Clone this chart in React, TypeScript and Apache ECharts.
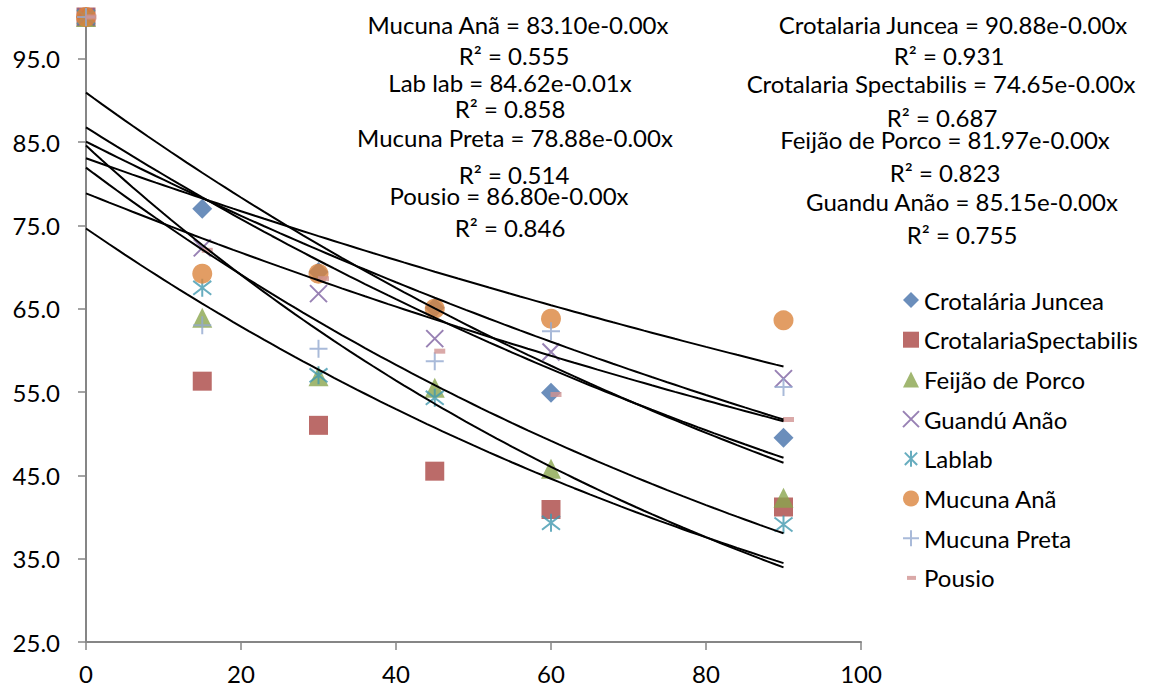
import React, { useEffect, useRef } from 'react';
import * as echarts from 'echarts';

const xValues = [0, 15, 30, 45, 60, 90];
const seriesNames = [
  'Crotalária Juncea',
  'CrotalariaSpectabilis',
  'Feijão de Porco',
  'Guandú Anão',
  'Lablab',
  'Mucuna Anã',
  'Mucuna Preta',
  'Pousio',
];
const crotalariaJuncea = [100, 77.0, 69.4, 65.1, 54.9, 49.5];
const crotalariaSpectabilis = [100, 56.3, 51.0, 45.5, 40.9, 41.2];
const feijaoDePorco = [100, 63.9, 56.9, 55.5, 45.8, 42.3];
const guanduAnao = [100, 72.3, 66.8, 61.4, 59.8, 56.6];
const lablab = [100, 67.5, 57.0, 54.3, 39.3, 39.1];
const mucunaAna = [100, 69.2, 69.2, 65.0, 63.8, 63.6];
const mucunaPreta = [100, 63.0, 60.2, 58.7, 62.3, 55.6];
const pousio = [100, 72.0, 68.6, 59.9, 54.7, 51.7];
const seriesValues = [
  crotalariaJuncea,
  crotalariaSpectabilis,
  feijaoDePorco,
  guanduAnao,
  lablab,
  mucunaAna,
  mucunaPreta,
  pousio,
];
const yTicks = [25, 35, 45, 55, 65, 75, 85, 95];
const xTicks = [0, 20, 40, 60, 80, 100];

const equationLabels = [
  'Mucuna Anã = 83.10e-0.00x',
  'R² = 0.555',
  'Lab lab = 84.62e-0.01x',
  'R² = 0.858',
  'Mucuna Preta = 78.88e-0.00x',
  'R² = 0.514',
  'Pousio = 86.80e-0.00x',
  'R² = 0.846',
  'Crotalaria Juncea = 90.88e-0.00x',
  'R² = 0.931',
  'Crotalaria Spectabilis = 74.65e-0.00x',
  'R² = 0.687',
  'Feijão de Porco = 81.97e-0.00x',
  'R² = 0.823',
  'Guandu Anão = 85.15e-0.00x',
  'R² = 0.755',
];

// layout of the equation labels (centre x, centre y)
const equationPos = [
  [518, 24], [514, 55], [510, 82], [510, 108], [515, 137], [514, 174], [509, 195], [510, 227],
  [953, 24], [949, 55], [941, 83], [942, 117], [945, 139], [945, 172], [962, 201], [962, 234],
];

const colors = ['#4672AA', '#AA4643', '#89A54E', '#7E62A1', '#4198AF', '#DB843D', '#93A9CF', '#D19392'];
const symbols = [
  'diamond',
  'rect',
  'triangle',
  'path://M0 0L10 10M10 0L0 10',
  'path://M0 0L10 10M10 0L0 10M5 -1.5L5 11.5',
  'circle',
  'path://M5 0L5 10M0 5L10 5',
  'rect',
];
const symbolSizes: any[] = [20, 19, 20, 17, 18, 20, 18, [11, 5]];
const strokeOnly = [false, false, false, true, true, false, true, false];

// Exponential least-squares fit (as Excel's trendline) of a series
function expFit(xs: number[], ys: number[]) {
  const n = xs.length;
  const ly = ys.map((v) => Math.log(v));
  const mx = xs.reduce((a, b) => a + b, 0) / n;
  const my = ly.reduce((a, b) => a + b, 0) / n;
  let sxy = 0;
  let sxx = 0;
  for (let i = 0; i < n; i++) {
    sxy += (xs[i] - mx) * (ly[i] - my);
    sxx += (xs[i] - mx) * (xs[i] - mx);
  }
  const b = sxy / sxx;
  const a = Math.exp(my - b * mx);
  return { a, b };
}

export default function App() {
  const ref = useRef<HTMLDivElement>(null);
  useEffect(() => {
    if (!ref.current) return;
    const chart = echarts.init(ref.current, null, { renderer: 'svg' });
    const font = 'Lato';
    const fs = 24;
    const scatterSeries = seriesNames.map((name, i) => ({
      name,
      type: 'scatter',
      symbol: symbols[i],
      symbolSize: symbolSizes[i],
      symbolOffset: i === 7 ? [5, 0] : [0, 0],
      data: xValues.map((x, j) => [x, seriesValues[i][j]]),
      itemStyle: strokeOnly[i]
        ? { color: 'transparent', borderColor: colors[i], borderWidth: 2 }
        : { color: colors[i] },
      z: 2,
    }));
    const trendSeries = seriesValues.map((vals, i) => {
      const { a, b } = expFit(xValues, vals);
      const pts: number[][] = [];
      for (let x = 0; x <= xValues[xValues.length - 1]; x += 1) {
        pts.push([x, a * Math.exp(b * x)]);
      }
      return {
        name: 'trend' + i,
        type: 'line',
        data: pts,
        showSymbol: false,
        symbol: 'none',
        silent: true,
        lineStyle: { color: '#000', width: 2 },
        z: 3,
      };
    });
    const legendData = seriesNames.map((name, i) =>
      i === 7
        ? { name, icon: 'path://M0 0M16 16M4 6L13 6L13 10L4 10Z' }
        : { name }
    );
    chart.setOption({
      animation: false,
      textStyle: { fontFamily: font },
      grid: { left: 86, right: 302, top: 17, bottom: 49 },
      xAxis: {
        type: 'value',
        min: 0,
        max: 100,
        interval: 20,
        splitLine: { show: false },
        axisLine: { lineStyle: { color: '#868686', width: 2 } },
        axisTick: { show: true, length: 8, lineStyle: { color: '#868686', width: 1.5 } },
        axisLabel: {
          color: '#000',
          fontFamily: font,
          fontSize: fs,
          margin: 19,
          customValues: xTicks,
        },
      },
      yAxis: {
        type: 'value',
        min: 25,
        max: 100,
        interval: 10,
        splitLine: { show: false },
        axisLine: { show: true, lineStyle: { color: '#868686', width: 2 } },
        axisTick: { show: true, length: 8, lineStyle: { color: '#868686', width: 1.5 }, customValues: yTicks },
        axisLabel: {
          color: '#000',
          fontFamily: font,
          fontSize: fs,
          margin: 26,
          customValues: yTicks,
          formatter: (v: number) => v.toFixed(1),
        },
      },
      legend: {
        orient: 'vertical',
        left: 897,
        top: 283,
        itemWidth: 16,
        itemHeight: 16,
        itemGap: 15.7,
        data: legendData,
        textStyle: { color: '#000', fontFamily: font, fontSize: fs, lineHeight: 24 },
      },
      graphic: equationLabels.map((t, i) => ({
        type: 'text',
        x: equationPos[i][0],
        y: equationPos[i][1],
        silent: true,
        style: {
          text: t,
          fill: '#000',
          font: `${fs}px ${font}`,
          lineHeight: 20,
          textAlign: 'center',
          textVerticalAlign: 'middle',
        },
      })),
      series: [...scatterSeries, ...trendSeries],
    });
    return () => chart.dispose();
  }, []);
  return (
    <div
      ref={ref}
      style={{ position: 'absolute', left: 0, top: 0, width: 1163, height: 691 }}
    />
  );
}
